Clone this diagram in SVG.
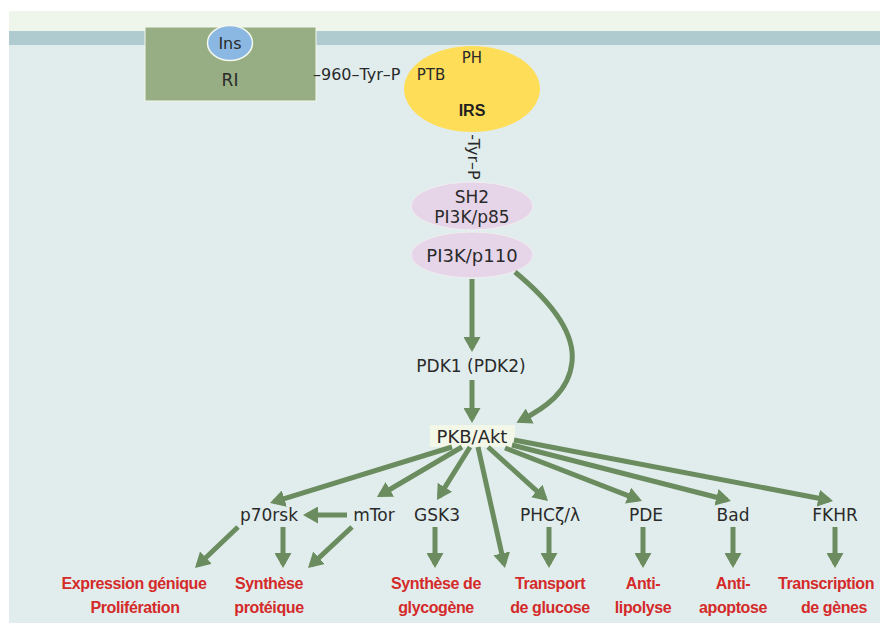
<svg xmlns="http://www.w3.org/2000/svg" width="880" height="625" viewBox="0 0 880 625">
<style>
.lbl{font-family:"DejaVu Sans",sans-serif;font-size:17px;fill:#2a2a2a;text-anchor:middle}
.sm{font-family:"DejaVu Sans",sans-serif;font-size:15px;fill:#2a2a2a}
.red{font-family:"Liberation Sans",Arial,sans-serif;font-size:16px;letter-spacing:-0.4px;font-weight:bold;fill:#d42a2a;text-anchor:middle}
.arr{stroke:#6b8c5e;stroke-width:5;fill:none;marker-end:url(#ah)}
</style>
<defs>
<marker id="ah" viewBox="0 0 15 17" markerWidth="15" markerHeight="17" refX="11" refY="8.5" orient="auto" markerUnits="userSpaceOnUse">
<path d="M0,0 L15,8.5 L0,17 z" fill="#6b8c5e"/>
</marker>
</defs>
<rect x="0" y="0" width="880" height="625" fill="#ffffff"/>
<rect x="9" y="11" width="871" height="612" fill="#e1eded"/>
<rect x="9" y="11" width="871" height="20" fill="#eef5ea"/>
<rect x="9" y="31" width="871" height="14" fill="#b0cbd0"/>

<g id="receptor">
<rect x="145" y="27" width="171" height="74" fill="#97ae84" stroke="#f4f8ee" stroke-width="1"/>
<text x="230" y="86" class="sm" text-anchor="middle" style="font-size:17px">RI</text>
</g>
<g id="ins">
<ellipse cx="230" cy="43" rx="22.5" ry="17.5" fill="#8ab8e2" stroke="#f4f8ee" stroke-width="1.5"/>
<text x="230" y="49" class="sm" text-anchor="middle" style="font-size:16px">Ins</text>
</g>
<text x="313" y="80" class="sm" style="font-size:16px">–960–Tyr–P</text>
<g id="irs">
<ellipse cx="472" cy="89" rx="68" ry="43" fill="#fedd58"/>
<text x="472" y="63" class="sm" text-anchor="middle">PH</text>
<text x="431" y="80" class="sm" text-anchor="middle">PTB</text>
<text x="472" y="116" text-anchor="middle" style="font-family:'Liberation Sans',Arial,sans-serif;font-size:16px;font-weight:bold;fill:#1e1e1e">IRS</text>
</g>
<text transform="translate(473,157) rotate(90)" class="sm" text-anchor="middle" dy="5" style="font-size:16px">-Tyr–P</text>
<g id="p85">
<ellipse cx="472" cy="206" rx="61" ry="24" fill="#e6d5e8" stroke="#f0eef0" stroke-width="1"/>
<text x="472" y="203" class="lbl">SH2</text>
<text x="472" y="223" class="lbl">PI3K/p85</text>
</g>
<g id="p110">
<ellipse cx="472" cy="255" rx="61" ry="23" fill="#e6d5e8" stroke="#f0eef0" stroke-width="1"/>
<text x="472" y="262" class="lbl" style="font-size:18px">PI3K/p110</text>
</g>
<g id="pdk1">
<text x="471" y="372" class="lbl">PDK1 (PDK2)</text>
</g>
<g id="pkb">
<rect x="430" y="425" width="85" height="22" fill="#f3f7e8"/>
<text x="472" y="443" class="lbl" style="font-size:18px">PKB/Akt</text>
</g>
<g id="p70rsk"><text x="269" y="521" class="lbl">p70rsk</text></g>
<g id="mtor"><text x="374" y="521" class="lbl">mTor</text></g>
<g id="gsk3"><text x="437" y="521" class="lbl">GSK3</text></g>
<g id="phc"><text x="550" y="521" class="lbl">PHCζ/λ</text></g>
<g id="pde"><text x="646" y="521" class="lbl">PDE</text></g>
<g id="bad"><text x="733" y="521" class="lbl">Bad</text></g>
<g id="fkhr"><text x="835" y="521" class="lbl">FKHR</text></g>

<g id="out-expression"><text x="134" y="589" class="red">Expression génique</text><text x="135" y="613" class="red">Prolifération</text></g>
<g id="out-synth-prot"><text x="269" y="589" class="red">Synthèse</text><text x="269" y="613" class="red">protéique</text></g>
<g id="out-glycogene"><text x="436" y="589" class="red">Synthèse de</text><text x="436" y="613" class="red">glycogène</text></g>
<g id="out-glucose"><text x="550" y="589" class="red">Transport</text><text x="550" y="613" class="red">de glucose</text></g>
<g id="out-lipolyse"><text x="643" y="589" class="red">Anti-</text><text x="643" y="613" class="red">lipolyse</text></g>
<g id="out-apoptose"><text x="733" y="589" class="red">Anti-</text><text x="733" y="613" class="red">apoptose</text></g>
<g id="out-transcription"><text x="826" y="589" class="red">Transcription</text><text x="834" y="613" class="red">de gènes</text></g>

<g id="connectors">
<path class="arr" d="M472,279 L472,348"/>
<path class="arr" d="M472,380 L472,419"/>
<path class="arr" d="M515,272 C555,305 575,335 572,362 C569,392 545,408 520,421"/>
<path class="arr" d="M452,447 L273.8,501.8"/>
<path class="arr" d="M462,447 L380.4,495"/>
<path class="arr" d="M470,447 L439.1,496.6"/>
<path class="arr" d="M478,447 L504.1,564.1"/>
<path class="arr" d="M488,447 L545,498.3"/>
<path class="arr" d="M505,448 L638.3,499.6"/>
<path class="arr" d="M512,445 L727.1,500"/>
<path class="arr" d="M514,440 L829.1,500.2"/>
<path class="arr" d="M347,515 L307,515"/>
<path class="arr" d="M238,527 L197.9,565.2"/>
<path class="arr" d="M283,527 L283,564"/>
<path class="arr" d="M352,527 L310.9,565.3"/>
<path class="arr" d="M435,527 L435,564"/>
<path class="arr" d="M549,527 L549,564"/>
<path class="arr" d="M643,527 L643,564"/>
<path class="arr" d="M733,527 L733,564"/>
<path class="arr" d="M835,527 L835,564"/>
</g>
</svg>
